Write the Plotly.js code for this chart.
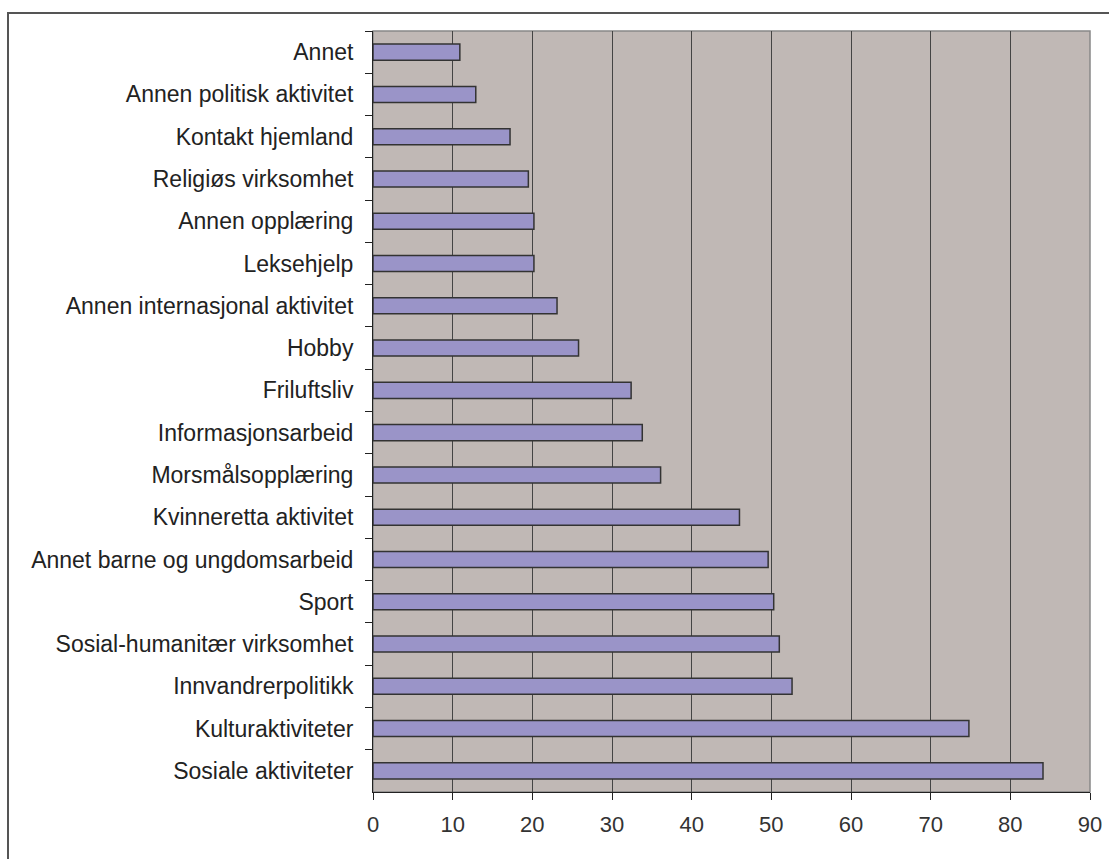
<!DOCTYPE html>
<html>
<head>
<meta charset="utf-8">
<script src="https://cdn.plot.ly/plotly-3.0.1.min.js"></script>
<style>
  html, body { margin: 0; padding: 0; background: #ffffff; overflow: hidden; }
  #chart { width: 1109px; height: 859px; }
</style>
</head>
<body>
<div id="chart"></div>
<script>
// Categories listed from top to bottom as in the reference
const categories = [
  "Annet",
  "Annen politisk aktivitet",
  "Kontakt hjemland",
  "Religiøs virksomhet",
  "Annen opplæring",
  "Leksehjelp",
  "Annen internasjonal aktivitet",
  "Hobby",
  "Friluftsliv",
  "Informasjonsarbeid",
  "Morsmålsopplæring",
  "Kvinneretta aktivitet",
  "Annet barne og ungdomsarbeid",
  "Sport",
  "Sosial-humanitær virksomhet",
  "Innvandrerpolitikk",
  "Kulturaktiviteter",
  "Sosiale aktiviteter"
];
const values = [10.9, 12.9, 17.2, 19.5, 20.2, 20.2, 23.1, 25.8, 32.4, 33.8, 36.1, 46.0, 49.6, 50.3, 51.0, 52.6, 74.8, 84.1];
const xTicks = [0, 10, 20, 30, 40, 50, 60, 70, 80, 90];

const trace = {
  type: "bar",
  orientation: "h",
  y: categories,
  x: values,
  marker: { color: "#9A94C8", line: { color: "#333333", width: 1.5 } },
  hoverinfo: "x+y"
};

const fam = "Liberation Sans, Arial, sans-serif";

const layout = {
  width: 1109,
  height: 859,
  margin: { l: 373, r: 19, t: 31, b: 67 },
  paper_bgcolor: "#ffffff",
  plot_bgcolor: "#C0B8B5",
  bargap: 0.62,
  showlegend: false,
  font: { family: fam, size: 22, color: "#222222" },
  xaxis: {
    range: [0, 90],
    tickvals: xTicks,
    ticktext: xTicks.map(String),
    showgrid: true,
    gridcolor: "#444444",
    gridwidth: 1,
    zeroline: false,
    showline: true,
    linecolor: "#222222",
    linewidth: 1,
    ticks: "outside",
    ticklen: 7,
    tickcolor: "#222222",
    tickfont: { family: fam, size: 22, color: "#333333" },
    ticklabelstandoff: 6,
    fixedrange: true
  },
  yaxis: {
    autorange: "reversed",
    type: "category",
    showgrid: false,
    showline: true,
    linecolor: "#222222",
    linewidth: 1,
    ticks: "outside",
    tickson: "boundaries",
    ticklen: 7,
    tickcolor: "#222222",
    tickfont: { family: fam, size: 23, color: "#222222" },
    ticklabelstandoff: 14,
    fixedrange: true
  },
  shapes: [
    {
      type: "rect", xref: "paper", yref: "paper",
      x0: 0, x1: 1, y0: 0, y1: 1,
      line: { color: "#888888", width: 1.5 },
      layer: "below"
    },
    {
      type: "rect", xref: "paper", yref: "paper",
      x0: (8 - 373) / 717, x1: (1140 - 373) / 717,
      y0: (792 - 900) / 761, y1: (792 - 13) / 761,
      line: { color: "#555555", width: 2 },
      fillcolor: "rgba(0,0,0,0)",
      layer: "below"
    }
  ]
};

Plotly.newPlot("chart", [trace], layout, { displayModeBar: false, staticPlot: true });
</script>
</body>
</html>
